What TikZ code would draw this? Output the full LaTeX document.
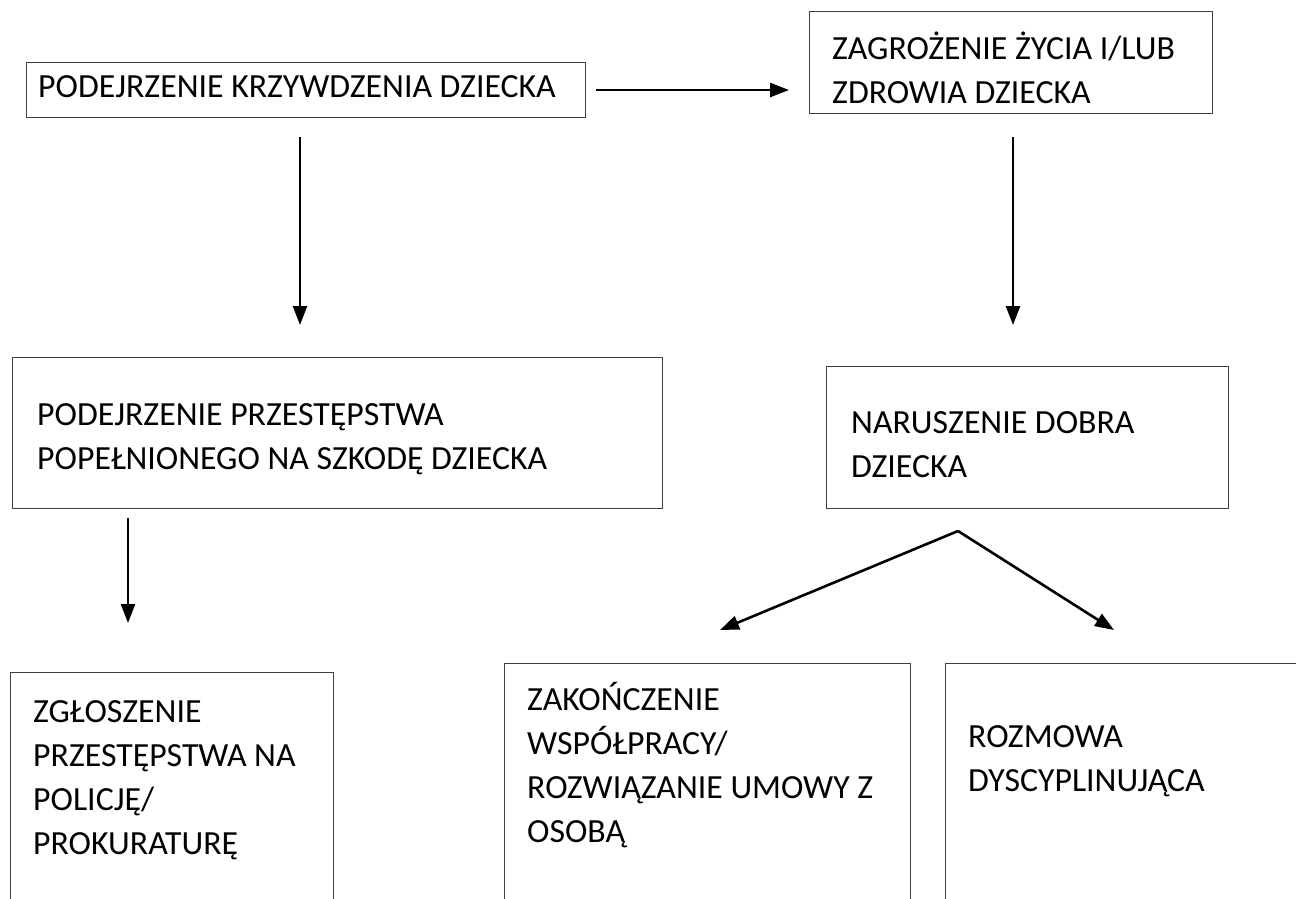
\documentclass[tikz,border=0pt]{standalone}
\usepackage{fontspec}
\setmainfont{Carlito}
\usetikzlibrary{arrows.meta}
\tikzset{
  box/.style={draw=black!75, line width=1.4pt, minimum width=#1, anchor=north west, inner sep=0pt},
  lbl/.style={anchor=base west, align=left, inner sep=0pt, font=\fontsize{33.8}{43.7}\selectfont},
  arr/.style={line width=2.6pt, -{Triangle[length=19pt,width=14pt]}},
}
\begin{document}
\begin{tikzpicture}[x=1pt,y=-1pt]
\useasboundingbox (0,0) rectangle (1296,899);
\clip (0,0) rectangle (1296,899);
% boxes
\node[box=559pt, minimum height=55pt] (b1) at (26,62) {};
\node[box=403pt, minimum height=102pt] (b2) at (809,11) {};
\node[box=650pt, minimum height=151pt] (b3) at (12,357) {};
\node[box=402pt, minimum height=142pt] (b4) at (826,366) {};
\node[box=323pt, minimum height=260pt] (b5) at (10,672) {};
\node[box=406pt, minimum height=260pt] (b6) at (504,663) {};
\node[box=380pt, minimum height=260pt] (b7) at (945,663) {};
% texts (anchor = baseline of the last line)
\node[lbl] (t1) at (38,97) {PODEJRZENIE KRZYWDZENIA DZIECKA};
\node[lbl] (t2) at (832,103) {ZAGROŻENIE ŻYCIA I/LUB\\ZDROWIA DZIECKA};
\node[lbl] (t3) at (37,469) {PODEJRZENIE PRZESTĘPSTWA\\POPEŁNIONEGO NA SZKODĘ DZIECKA};
\node[lbl] (t4) at (851,477) {NARUSZENIE DOBRA\\DZIECKA};
\node[lbl] (t5) at (33,854) {ZGŁOSZENIE\\PRZESTĘPSTWA NA\\POLICJĘ/\\PROKURATURĘ};
\node[lbl] (t6) at (527,842) {ZAKOŃCZENIE\\WSPÓŁPRACY/\\ROZWIĄZANIE UMOWY Z\\OSOBĄ};
\node[lbl] (t7) at (968,791) {ROZMOWA\\DYSCYPLINUJĄCA};
% arrow end points
\coordinate (a1s) at (596,90);
\coordinate (a1e) at (789,90);
\coordinate (a2s) at (300,137);
\coordinate (a2e) at (300,325);
\coordinate (a3s) at (1013,137);
\coordinate (a3e) at (1013,325);
\coordinate (a4s) at (128,518);
\coordinate (a4e) at (128,623);
\coordinate (a5s) at (958,531);
\coordinate (a5e) at (720,630);
\coordinate (a6e) at (1114,630);
\draw[arr] (a1s) -- (a1e);
\draw[arr] (a2s) -- (a2e);
\draw[arr] (a3s) -- (a3e);
\draw[arr] (a4s) -- (a4e);
\draw[arr] (a5s) -- (a5e);
\draw[arr] (a5s) -- (a6e);
\end{tikzpicture}
\end{document}
